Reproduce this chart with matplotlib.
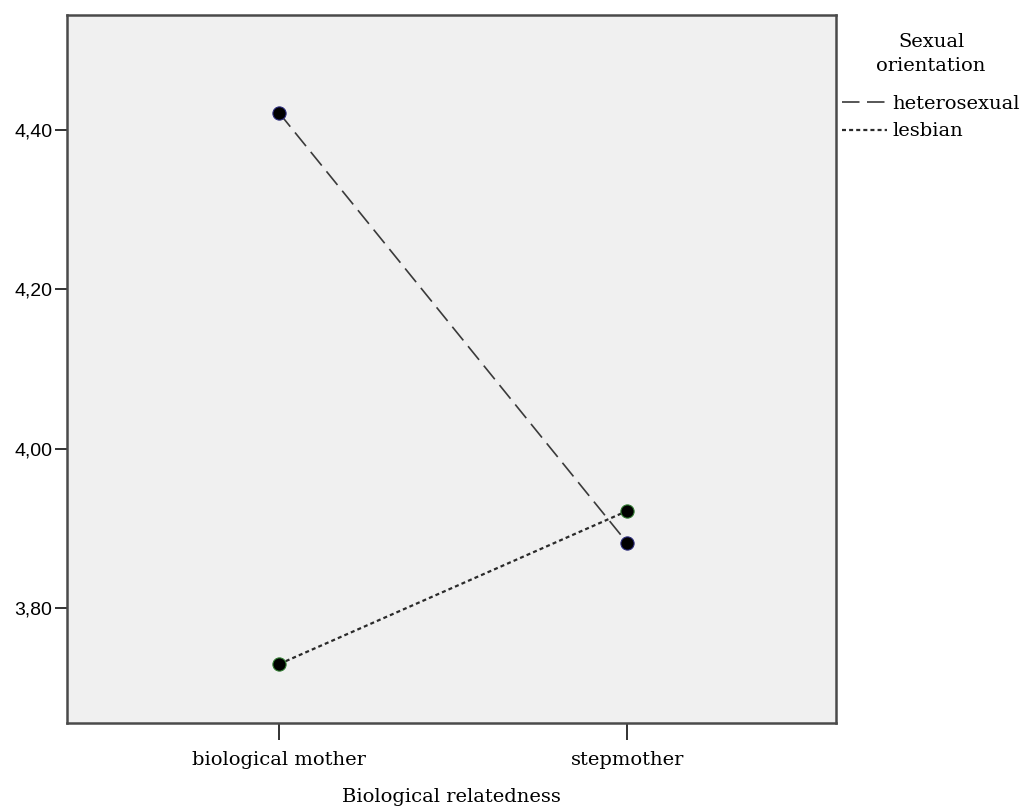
import matplotlib
matplotlib.use("Agg")
import matplotlib.pyplot as plt

categories = ["biological mother", "stepmother"]
heterosexual = [4.421, 3.882]
lesbian = [3.730, 3.922]
yticks = [3.80, 4.00, 4.20, 4.40]
ytick_labels = ["3,80", "4,00", "4,20", "4,40"]

SERIF = "DejaVu Serif"
FS = 14

fig = plt.figure(figsize=(10.24, 8.11), dpi=100)
ax = fig.add_axes([67/1024, 1-723/811, (836-67)/1024, (723-15)/811])
ax.set_facecolor("#f0f0f0")

x = list(range(len(categories)))
ax.plot(x, heterosexual, color="#3a3a3a", lw=1.2, dashes=(10.5, 4.5),
        marker="o", ms=9.5, mfc="black", mec="#2a2a7a", mew=0.8,
        label="heterosexual", zorder=3)
ax.plot(x, lesbian, color="#2a2a2a", lw=1.6, dashes=(1.8, 1.4),
        marker="o", ms=9.5, mfc="black", mec="#2f7a2f", mew=0.8,
        label="lesbian", zorder=3)

ax.set_xlim(-0.61, 1.6)
ax.set_ylim(3.656, 4.544)
ax.set_xticks(x)
ax.set_xticklabels(categories, family=SERIF, fontsize=FS)
ax.set_yticks(yticks)
ax.set_yticklabels(ytick_labels, family="Liberation Sans", fontsize=14)
ax.tick_params(axis="x", length=12, width=1.3, color="#222222", pad=8)
ax.tick_params(axis="y", length=9, width=1.3, color="#222222", pad=1.5)
for s in ax.spines.values():
    s.set_color("#4a4a4a")
    s.set_linewidth(1.8)

ax.set_xlabel("Biological relatedness", family=SERIF, fontsize=FS, labelpad=14)

leg = fig.legend(handles=ax.get_lines(), labels=["heterosexual", "lesbian"],
                 title="Sexual\norientation", loc="upper left",
                 bbox_to_anchor=(842/1024, 1-33/811), frameon=False,
                 prop={"family": SERIF, "size": FS},
                 title_fontproperties={"family": SERIF, "size": FS},
                 handlelength=2.3, handletextpad=0.3, labelspacing=0.5,
                 borderaxespad=0, borderpad=0, alignment="center")
leg.get_title().set_linespacing(1.45)
leg.get_title().set_multialignment("center")
for h in leg.legend_handles:
    h.set_marker("")
leg._legend_box.sep = 14

fig.savefig("out.png", dpi=100)
